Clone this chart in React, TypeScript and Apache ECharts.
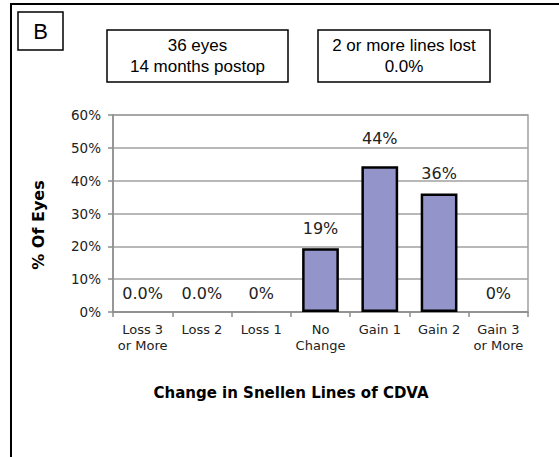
import React, { useEffect, useRef } from "react";
import * as echarts from "echarts";

const categories = ["Loss 3\nor More", "Loss 2", "Loss 1", "No\nChange", "Gain 1", "Gain 2", "Gain 3\nor More"];
const values = [0, 0, 0, 19.4, 44.4, 36.1, 0];
const valueLabels = ["0.0%", "0.0%", "0%", "19%", "44%", "36%", "0%"];
const labelDistances = [11, 11, 11, 12, 20, 12, 11];
const yTicks = [0, 10, 20, 30, 40, 50, 60];
const infoLeft = ["36 eyes", "14 months postop"];
const infoRight = ["2 or more lines lost", "0.0%"];
const panelLetter = "B";
const xTitle = "Change in Snellen Lines of CDVA";
const yTitle = "% Of Eyes";

export default function App() {
  const ref = useRef<HTMLDivElement>(null);
  useEffect(() => {
    if (!ref.current) return;
    const chart = echarts.init(ref.current, null, { renderer: "svg" });
    const boxText = { fill: "#000", font: "17px 'Liberation Sans', Arial, sans-serif", textAlign: "center", lineHeight: 21 };
    chart.setOption({
      animation: false,
      backgroundColor: "#fff",
      grid: { left: 113, top: 115, width: 415, height: 197, show: true, borderColor: "#a0a0a0", borderWidth: 1.5, backgroundColor: "transparent" },
      xAxis: {
        type: "category",
        data: categories,
        axisLine: { lineStyle: { color: "#8c8c8c", width: 1.5 } },
        axisTick: { show: true, length: 5, lineStyle: { color: "#8c8c8c", width: 1.5 } },
        axisLabel: { interval: 0, color: "#222", fontFamily: "DejaVu Sans", fontSize: 13, lineHeight: 16, margin: 9 },
      },
      yAxis: {
        type: "value",
        min: yTicks[0],
        max: yTicks[yTicks.length - 1],
        interval: 10,
        axisLine: { show: true, lineStyle: { color: "#8c8c8c", width: 1.5 } },
        axisTick: { show: true, length: 5, lineStyle: { color: "#8c8c8c", width: 1.5 } },
        splitLine: { lineStyle: { color: "#a0a0a0", width: 1.5 } },
        axisLabel: { color: "#222", fontFamily: "DejaVu Sans", fontSize: 13.5, margin: 12, formatter: (v: number) => v + "%" },
      },
      series: [
        {
          type: "bar",
          barWidth: "62%",
          data: values.map((v, i) => ({
            value: v,
            itemStyle: v === 0 ? { borderWidth: 0, color: "transparent" } : undefined,
            label: { distance: labelDistances[i], formatter: valueLabels[i] },
          })),
          itemStyle: { color: "#9394c9", borderColor: "#000", borderWidth: 2.5 },
          label: { show: true, position: "top", color: "#222", fontFamily: "DejaVu Sans", fontSize: 16 },
        },
      ],
      graphic: [
        { type: "rect", shape: { x: 11, y: 4, width: 600, height: 500 }, style: { fill: "none", stroke: "#000", lineWidth: 2 } },
        { type: "rect", shape: { x: 18, y: 12, width: 45, height: 38 }, style: { fill: "none", stroke: "#000", lineWidth: 1.5 } },
        { type: "text", x: 40.5, y: 31, style: { text: panelLetter, fill: "#000", font: "22px 'Liberation Sans', Arial, sans-serif", textAlign: "center", textVerticalAlign: "middle" } },
        { type: "rect", shape: { x: 107, y: 30, width: 181, height: 52 }, style: { fill: "none", stroke: "#000", lineWidth: 1.5 } },
        { type: "text", x: 197.5, y: 56, style: { ...boxText, text: infoLeft.join("\n"), textVerticalAlign: "middle" } },
        { type: "rect", shape: { x: 318, y: 30, width: 172, height: 52 }, style: { fill: "none", stroke: "#000", lineWidth: 1.5 } },
        { type: "text", x: 404, y: 56, style: { ...boxText, text: infoRight.join("\n"), textVerticalAlign: "middle" } },
        { type: "text", x: 291, y: 393, style: { text: xTitle, fill: "#000", font: "bold 15px 'DejaVu Sans'", textAlign: "center", textVerticalAlign: "middle" } },
        { type: "text", x: 38, y: 225, rotation: Math.PI / 2, style: { text: yTitle, fill: "#000", font: "bold 16px 'DejaVu Sans'", textAlign: "center", textVerticalAlign: "middle" } },
      ],
    });
    return () => chart.dispose();
  }, []);
  return <div ref={ref} style={{ position: "absolute", left: 0, top: 0, width: 559, height: 457 }} />;
}
